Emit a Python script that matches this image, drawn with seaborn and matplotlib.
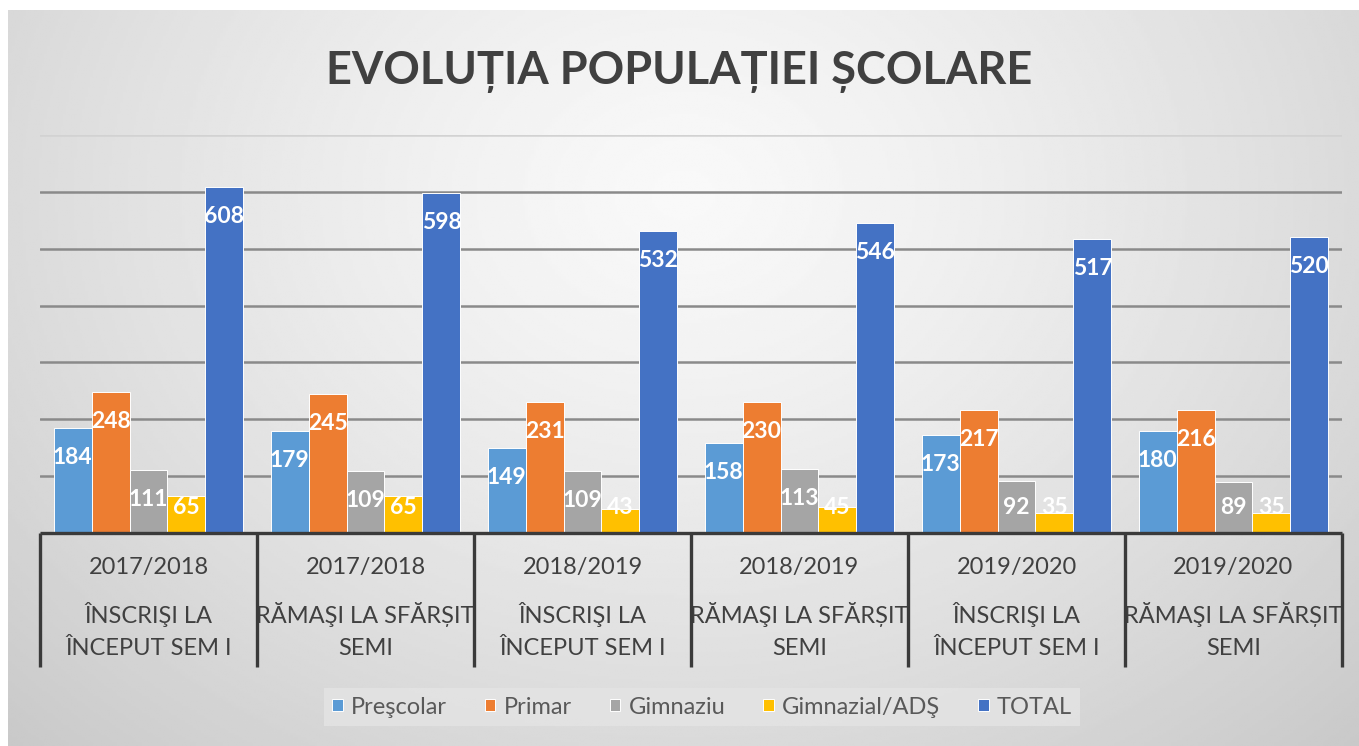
import numpy as np
import pandas as pd
import seaborn as sns
import matplotlib.pyplot as plt
import matplotlib.transforms as mtransforms

# data
years = ['2017/2018', '2017/2018', '2018/2019', '2018/2019', '2019/2020', '2019/2020']
stages = ['ÎNSCRIŞI LA\nÎNCEPUT SEM I', 'RĂMAŞI LA SFĂRȘIT\nSEMI'] * 3
series = ['Preşcolar', 'Primar', 'Gimnaziu', 'Gimnazial/ADŞ', 'TOTAL']
prescolar = [184, 179, 149, 158, 173, 180]
primar = [248, 245, 231, 230, 217, 216]
gimnaziu = [111, 109, 109, 113, 92, 89]
gimnazial_ads = [65, 65, 43, 45, 35, 35]
total = [608, 598, 532, 546, 517, 520]

colors = ['#5B9BD5', '#ED7D31', '#A5A5A5', '#FFC000', '#4472C4']

cats = [y + '|' + s for y, s in zip(years, stages)]
rows = []
for name, vals in zip(series, [prescolar, primar, gimnaziu, gimnazial_ads, total]):
    for c, v in zip(cats, vals):
        rows.append({'cat': c, 'grp': name, 'val': v})
df = pd.DataFrame(rows)

sns.set_style('white')
plt.rcParams['font.family'] = ['Lato', 'DejaVu Sans']

fig = plt.figure(figsize=(13.59, 7.46), dpi=100)
fig.patch.set_facecolor('white')

# gradient background like the Excel chart area
bg = fig.add_axes([8 / 1359, 0, 1 - 8 / 1359, 736 / 746])
yy, xx = np.mgrid[0:1:300j, 0:1:500j]
r = np.sqrt(((xx - 0.5) / 0.75) ** 2 + ((yy - 0.25) / 1.1) ** 2)
shade = 0.975 - 0.2 * np.clip(r, 0, 1) ** 1.3
bg.imshow(shade, cmap='gray', vmin=0, vmax=1, aspect='auto', extent=[0, 1, 1, 0])
bg.set_axis_off()

ax = fig.add_axes([40 / 1359, 213 / 746, 1302 / 1359, 398 / 746])
ax.patch.set_alpha(0)
sns.barplot(data=df, x='cat', y='val', hue='grp', palette=colors, width=0.875,
            saturation=1, edgecolor='white', linewidth=0.7, ax=ax, zorder=3)

ax.set_xlim(-0.5, 5.5)
ax.set_ylim(0, 700)
ax.set_yticks(range(100, 701, 100))
ax.yaxis.grid(True, color='#8a8a8a', linewidth=1.8, zorder=0)
ax.get_ygridlines()[-1].set_color('#d2d2d2')
ax.set_axisbelow(True)
ax.set_yticklabels([])
ax.set_xticks([])
ax.set_xlabel('')
ax.set_ylabel('')
ax.tick_params(length=0)
for sp in ax.spines.values():
    sp.set_visible(False)

# data labels, inside end
for cont in ax.containers:
    for p in cont:
        h = p.get_height()
        ax.text(p.get_x() + p.get_width() / 2, max(h - 52, 45), f'{int(h)}',
                ha='center', va='center', color='white', fontsize=16.5,
                fontweight='bold', zorder=5)

# category table below the axis
trans = mtransforms.blended_transform_factory(ax.transData, ax.transAxes)
line_col = '#3a3a3a'
ax.plot([-0.5, 5.5], [0, 0], transform=trans, color=line_col, lw=2.4,
        clip_on=False, zorder=6, solid_capstyle='butt')
for xb in np.arange(-0.5, 6, 1):
    ax.plot([xb, xb], [0, -0.337], transform=trans, color=line_col, lw=2.4,
            clip_on=False, zorder=6, solid_capstyle='butt')
for i, (yr, st) in enumerate(zip(years, stages)):
    ax.text(i, -0.087, yr, transform=trans, ha='center', va='center',
            fontsize=17, color='#404040')
    ax.text(i, -0.244, st, transform=trans, ha='center', va='center',
            fontsize=17, color='#404040', linespacing=1.65)

# legend at the bottom
handles, labels = ax.get_legend_handles_labels()
ax.legend_.remove()
leg = fig.legend(handles, labels, loc='center', bbox_to_anchor=(702 / 1359, 39 / 746),
                 ncol=5, frameon=True, fancybox=False, fontsize=17,
                 handlelength=0.45, handleheight=0.45, handletextpad=0.35,
                 columnspacing=1.6, borderpad=0.35)
leg.get_frame().set_facecolor('#e4e4e4')
leg.get_frame().set_edgecolor('none')
for t in leg.get_texts():
    t.set_color('#595959')

fig.text(0.5, (746 - 72) / 746, 'EVOLUȚIA POPULAȚIEI ȘCOLARE', ha='center',
         va='center', fontsize=32.5, fontweight='bold', color='#404040')

plt.savefig('out.png', dpi=100)
